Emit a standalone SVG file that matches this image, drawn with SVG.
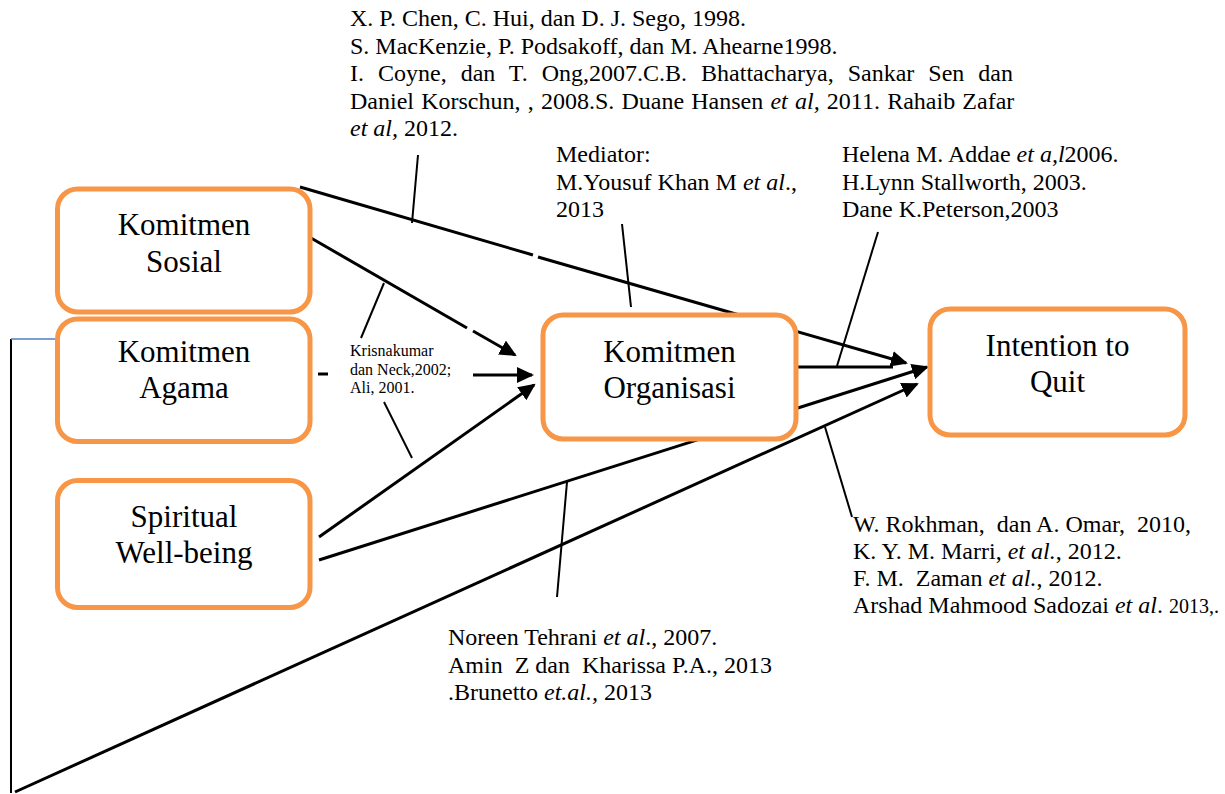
<svg xmlns="http://www.w3.org/2000/svg" width="1225" height="794" viewBox="0 0 1225 794">
<style>
text{font-family:"Liberation Serif","Times New Roman",serif;fill:#000}
.box{fill:#fff;stroke:#F79646;stroke-width:5}
.bt{font-size:31px;text-anchor:middle}
.cit{font-size:24px}
.sm{font-size:16px}
.it{font-style:italic}
.con{stroke:#000;stroke-width:3;fill:none}
.tick{stroke:#000;stroke-width:2;fill:none}
</style>
<defs>
<marker id="ah" markerUnits="userSpaceOnUse" markerWidth="20" markerHeight="18" refX="15" refY="8" orient="auto" viewBox="0 0 20 18">
<path d="M0,0 L17,8 L0,16 z" fill="#000"/>
</marker>
</defs>
<rect width="1225" height="794" fill="#fff"/>
<g id="connectors">
<line class="tick" x1="11" y1="339" x2="11" y2="793"/>
<line x1="11" y1="339" x2="55" y2="339" stroke="#4F81BD" stroke-width="1.5"/>
<line class="con" x1="300" y1="187" x2="533" y2="255"/>
<line class="con" x1="538" y1="257" x2="906" y2="363" marker-end="url(#ah)"/>
<line class="con" x1="798" y1="367" x2="893" y2="367"/>
<line class="con" x1="319" y1="560" x2="927" y2="367" marker-end="url(#ah)"/>
<line class="con" x1="15" y1="792" x2="917" y2="384" marker-end="url(#ah)"/>
<line class="con" x1="311" y1="238" x2="467" y2="328"/>
<line class="con" x1="473" y1="331" x2="515" y2="355" marker-end="url(#ah)"/>
<line class="con" x1="318" y1="374" x2="328" y2="374"/>
<line class="con" x1="473" y1="375" x2="532" y2="375" marker-end="url(#ah)"/>
<line class="con" x1="319" y1="537" x2="534" y2="385" marker-end="url(#ah)"/>
<line class="tick" x1="418" y1="155" x2="412" y2="223"/>
<line class="tick" x1="622" y1="224" x2="631" y2="307"/>
<line class="tick" x1="878" y1="232" x2="837" y2="366"/>
<line class="tick" x1="384" y1="283" x2="361" y2="338"/>
<line class="tick" x1="384" y1="402" x2="412" y2="458"/>
<line class="tick" x1="567" y1="482" x2="557" y2="597"/>
<line class="tick" x1="825" y1="427" x2="852" y2="517"/>
</g>
<g id="komitmen-sosial">
<rect class="box" x="57.5" y="189" width="252.5" height="123" rx="20"/>
<text class="bt" x="184" y="235">Komitmen</text>
<text class="bt" x="184" y="272">Sosial</text>
</g>
<g id="komitmen-agama">
<rect class="box" x="57.5" y="319" width="252.5" height="122.5" rx="20"/>
<text class="bt" x="184" y="362">Komitmen</text>
<text class="bt" x="184" y="398">Agama</text>
</g>
<g id="spiritual-well-being">
<rect class="box" x="57.5" y="480.5" width="252.5" height="127" rx="20"/>
<text class="bt" x="184" y="527">Spiritual</text>
<text class="bt" x="184" y="563">Well-being</text>
</g>
<g id="komitmen-organisasi">
<rect class="box" x="543" y="315" width="253" height="124" rx="20"/>
<text class="bt" x="669.5" y="362">Komitmen</text>
<text class="bt" x="669.5" y="398">Organisasi</text>
</g>
<g id="intention-to-quit">
<rect class="box" x="930" y="309" width="255" height="126" rx="20"/>
<text class="bt" x="1057.5" y="356">Intention to</text>
<text class="bt" x="1057.5" y="392">Quit</text>
</g>
<g id="citations">
<text class="cit" x="350" y="26">X. P. Chen, C. Hui, dan D. J. Sego, 1998.</text>
<text class="cit" x="350" y="53.5">S. MacKenzie, P. Podsakoff, dan M. Ahearne1998.</text>
<text class="cit" x="350" y="81" word-spacing="8">I. Coyne, dan T. Ong,2007.C.B. Bhattacharya, Sankar Sen dan</text>
<text class="cit" x="350" y="108.5" word-spacing="1.2">Daniel Korschun, , 2008.S. Duane Hansen <tspan class="it">et al,</tspan> 2011. Rahaib Zafar</text>
<text class="cit" x="350" y="136"><tspan class="it">et al,</tspan> 2012.</text>
<text class="cit" x="556" y="162">Mediator:</text>
<text class="cit" x="556" y="189.5">M.Yousuf Khan M <tspan class="it">et al</tspan>.,</text>
<text class="cit" x="556" y="217">2013</text>
<text class="cit" x="842" y="162">Helena M. Addae <tspan class="it">et a,l</tspan>2006.</text>
<text class="cit" x="842" y="189.5">H.Lynn Stallworth, 2003.</text>
<text class="cit" x="842" y="217">Dane K.Peterson,2003</text>
<text class="sm" x="350" y="356">Krisnakumar</text>
<text class="sm" x="350" y="375">dan Neck,2002;</text>
<text class="sm" x="350" y="393">Ali, 2001.</text>
<text class="cit" x="853" y="532" xml:space="preserve">W. Rokhman,  dan A. Omar,  2010,</text>
<text class="cit" x="853" y="559">K. Y. M. Marri, <tspan class="it">et al.</tspan>, 2012.</text>
<text class="cit" x="853" y="586" xml:space="preserve">F. M.  Zaman <tspan class="it">et al.</tspan>, 2012.</text>
<text class="cit" x="853" y="613">Arshad Mahmood Sadozai <tspan class="it">et al</tspan>. <tspan font-size="20">2013,.</tspan></text>
<text class="cit" x="448" y="645">Noreen Tehrani <tspan class="it">et al</tspan>., 2007.</text>
<text class="cit" x="448" y="672.5" xml:space="preserve">Amin  Z dan  Kharissa P.A., 2013</text>
<text class="cit" x="448" y="700">.Brunetto <tspan class="it">et.al.,</tspan> 2013</text>
</g>
</svg>
